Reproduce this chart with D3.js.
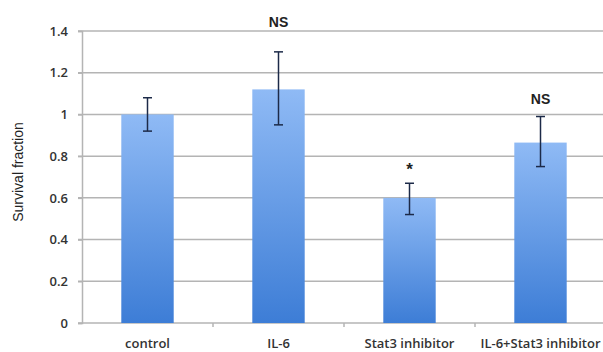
<!DOCTYPE html>
<html>
<head>
<meta charset="utf-8">
<script src="https://cdn.jsdelivr.net/npm/d3@7"></script>
<style>
  html, body { margin: 0; padding: 0; background: #fff; }
  svg { display: block; }
</style>
</head>
<body>
<svg id="chart" width="603" height="352"></svg>
<script>
// Survival fraction per treatment group, with error bar bounds
const categories = ["control", "IL-6", "Stat3 inhibitor", "IL-6+Stat3 inhibitor"];
const values = [1.0, 1.12, 0.6, 0.865];
const errLow = [0.92, 0.95, 0.52, 0.75];
const errHigh = [1.08, 1.30, 0.67, 0.99];
const annotations = ["", "NS", "*", "NS"];
const yTicks = [0, 0.2, 0.4, 0.6, 0.8, 1, 1.2, 1.4];

const svg = d3.select("#chart");
const plotLeft = 82, plotRight = 606, plotTop = 31, plotBottom = 323;

const x = d3.scaleBand().domain(categories).range([plotLeft, plotRight])
  .paddingInner(0.6).paddingOuter(0.3);
const y = d3.scaleLinear().domain([0, 1.4]).range([plotBottom, plotTop]);

// Bar gradient: light blue at top, deeper blue at the base
const defs = svg.append("defs");
const grad = defs.append("linearGradient").attr("id", "barGrad")
  .attr("x1", 0).attr("y1", 0).attr("x2", 0).attr("y2", 1);
grad.append("stop").attr("offset", "0%").attr("stop-color", "#8fbaf5");
grad.append("stop").attr("offset", "100%").attr("stop-color", "#3d7dd6");

// Horizontal gridlines
svg.append("g").selectAll("line").data(yTicks.slice(1)).join("line")
  .attr("x1", plotLeft - 4).attr("x2", 603)
  .attr("y1", d => y(d)).attr("y2", d => y(d))
  .attr("stroke", "#b4b4b4").attr("stroke-width", 1.5);

// Y axis
const yAxis = svg.append("g").attr("transform", `translate(${plotLeft},0)`)
  .call(d3.axisLeft(y).tickValues(yTicks).tickSize(4).tickPadding(10)
    .tickFormat(d => String(+d.toFixed(1))));
yAxis.select(".domain").attr("stroke", "#b4b4b4").attr("stroke-width", 1.5);
yAxis.selectAll(".tick line").attr("stroke", "#b4b4b4").attr("stroke-width", 1.5);
yAxis.selectAll(".tick text")
  .attr("font-family", "'Open Sans', sans-serif").attr("font-size", 13)
  .attr("font-weight", 600).attr("fill", "#333");

// X axis baseline and category boundary ticks
svg.append("line").attr("x1", plotLeft - 4).attr("x2", 603)
  .attr("y1", plotBottom).attr("y2", plotBottom)
  .attr("stroke", "#b4b4b4").attr("stroke-width", 1.5);
const gap = (x.step() - x.bandwidth()) / 2;
svg.append("g").selectAll("line").data(categories.slice(1)).join("line")
  .attr("x1", d => x(d) - gap).attr("x2", d => x(d) - gap)
  .attr("y1", plotBottom).attr("y2", plotBottom + 4)
  .attr("stroke", "#b4b4b4").attr("stroke-width", 1.5);

// Category labels
svg.append("g").selectAll("text").data(categories).join("text")
  .attr("x", d => x(d) + x.bandwidth() / 2).attr("y", 348)
  .attr("text-anchor", "middle")
  .attr("font-family", "'Open Sans', sans-serif").attr("font-size", 13)
  .attr("font-weight", 600).attr("fill", "#333")
  .text(d => d);

// Bars
svg.append("g").selectAll("rect").data(categories).join("rect")
  .attr("x", d => x(d)).attr("width", x.bandwidth())
  .attr("y", (d, i) => y(values[i]))
  .attr("height", (d, i) => y(0) - y(values[i]))
  .attr("fill", "url(#barGrad)");

// Error bars
const eb = svg.append("g").attr("stroke", "#1c2a48").attr("stroke-width", 1.5);
categories.forEach((c, i) => {
  const cx = x(c) + x.bandwidth() / 2;
  eb.append("line").attr("x1", cx).attr("x2", cx).attr("y1", y(errLow[i])).attr("y2", y(errHigh[i]));
  eb.append("line").attr("x1", cx - 4.5).attr("x2", cx + 4.5).attr("y1", y(errLow[i])).attr("y2", y(errLow[i]));
  eb.append("line").attr("x1", cx - 4.5).attr("x2", cx + 4.5).attr("y1", y(errHigh[i])).attr("y2", y(errHigh[i]));
});

// Significance annotations above error bars
// (the IL-6 label sits up near the top of the plot area)
const annotationGap = [0, 25, 8, 13];
svg.append("g").selectAll("text").data(categories).join("text")
  .attr("x", d => x(d) + x.bandwidth() / 2)
  .attr("y", (d, i) => y(errHigh[i]) - annotationGap[i])
  .attr("text-anchor", "middle")
  .attr("font-family", "'Liberation Sans', Arial, sans-serif")
  .attr("font-size", (d, i) => annotations[i] === "*" ? 17 : 14)
  .attr("font-weight", "bold").attr("fill", "#222")
  .text((d, i) => annotations[i]);

// Y axis title
svg.append("text")
  .attr("transform", "translate(23,172) rotate(-90)")
  .attr("text-anchor", "middle")
  .attr("font-family", "'Liberation Sans', Arial, sans-serif")
  .attr("font-size", 14).attr("fill", "#222")
  .text("Survival fraction");
</script>
</body>
</html>
